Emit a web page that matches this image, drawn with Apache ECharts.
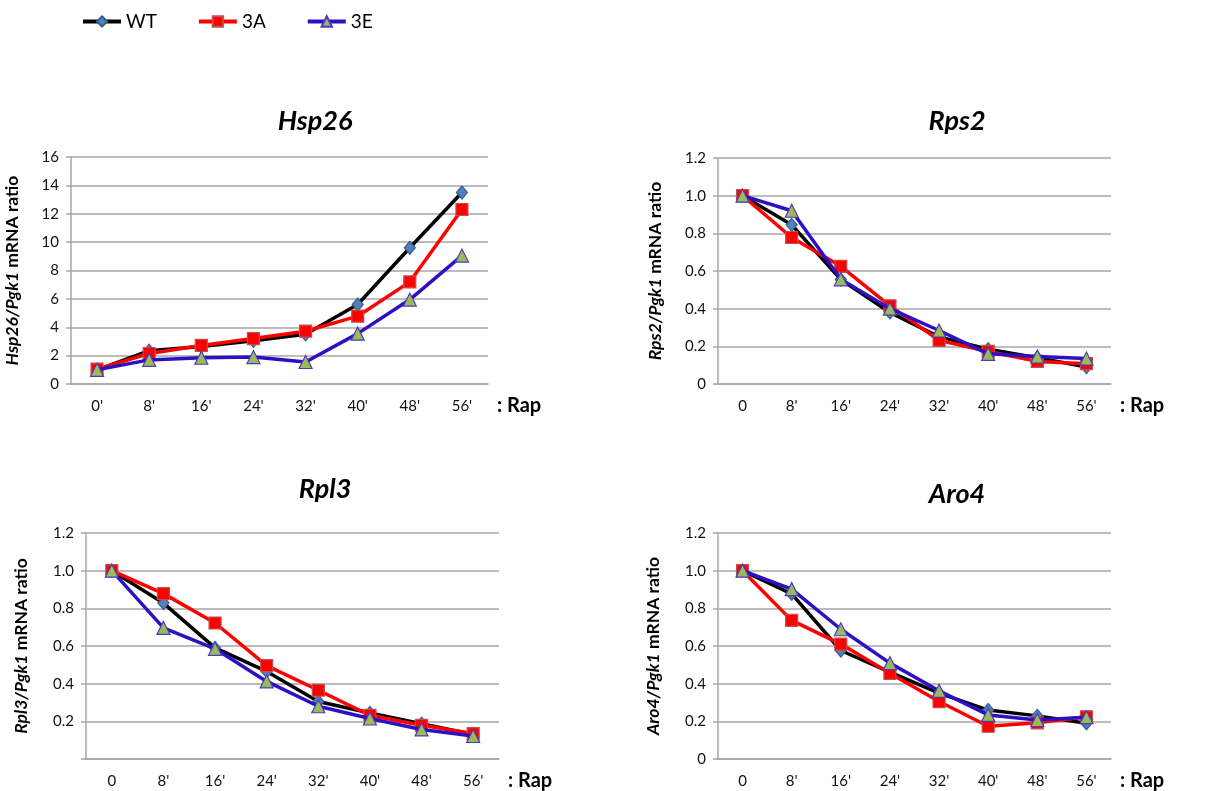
<!DOCTYPE html>
<html>
<head>
<meta charset="utf-8">
<script src="https://cdn.jsdelivr.net/npm/echarts@6/dist/echarts.min.js"></script>
<style>html,body{margin:0;padding:0;background:#fff}#c{width:1228px;height:791px}</style>
</head>
<body>
<div id="c"></div>
<script>
// ---- data ----
const catsHsp = ["0'", "8'", "16'", "24'", "32'", "40'", "48'", "56'"];
const catsOther = ["0", "8'", "16'", "24'", "32'", "40'", "48'", "56'"];

const hsp26_WT = [1.0, 2.35, 2.65, 3.05, 3.5, 5.6, 9.6, 13.5];
const hsp26_3A = [1.05, 2.15, 2.72, 3.2, 3.72, 4.78, 7.2, 12.3];
const hsp26_3E = [1.0, 1.7, 1.85, 1.9, 1.55, 3.55, 5.95, 9.05];

const rps2_WT = [1.0, 0.845, 0.555, 0.38, 0.25, 0.185, 0.14, 0.09];
const rps2_3A = [1.0, 0.778, 0.625, 0.415, 0.232, 0.173, 0.12, 0.108];
const rps2_3E = [1.0, 0.92, 0.556, 0.4, 0.284, 0.16, 0.146, 0.135];

const rpl3_WT = [1.0, 0.828, 0.59, 0.465, 0.305, 0.244, 0.188, 0.13];
const rpl3_3A = [1.0, 0.878, 0.722, 0.496, 0.365, 0.232, 0.179, 0.135];
const rpl3_3E = [1.0, 0.696, 0.585, 0.412, 0.28, 0.215, 0.157, 0.122];

const aro4_WT = [1.0, 0.877, 0.576, 0.461, 0.35, 0.26, 0.229, 0.19];
const aro4_3A = [1.0, 0.736, 0.61, 0.455, 0.305, 0.174, 0.192, 0.224];
const aro4_3E = [1.0, 0.902, 0.689, 0.509, 0.362, 0.234, 0.207, 0.222];

const hspTicks = {min: 0, max: 16, interval: 2};
const ratioTicks = {min: 0, max: 1.2, interval: 0.2};

// ---- styles ----
const FONT = 'Lato, "Open Sans", sans-serif';
const gridColor = '#a6a6a6';
const styleWT = {line: '#000000', fill: '#4f81bd', border: '#385d8a', symbol: 'diamond', size: [11, 13]};
const style3A = {line: '#ff0000', fill: '#ff0000', border: '#c0504d', symbol: 'rect', size: 12};
const style3E = {line: '#2e10c4', fill: '#9bbb59', border: '#4a3cc0', symbol: 'triangle', size: 13};

const panels = [
  {gene: 'Hsp26', cats: catsHsp, data: [hsp26_WT, hsp26_3A, hsp26_3E], ticks: hspTicks,
   grid: {left: 71, top: 157, width: 417, height: 227}, titleX: 310, titleY: 103, nameGap: 50, dec: 0, hideZero: false},
  {gene: 'Rps2', cats: catsOther, data: [rps2_WT, rps2_3A, rps2_3E], ticks: ratioTicks,
   grid: {left: 718, top: 158, width: 393, height: 226}, titleX: 952, titleY: 103, nameGap: 54, dec: 1, hideZero: false},
  {gene: 'Rpl3', cats: catsOther, data: [rpl3_WT, rpl3_3A, rpl3_3E], ticks: ratioTicks,
   grid: {left: 86, top: 533, width: 413, height: 226}, titleX: 320, titleY: 471, nameGap: 56, dec: 1, hideZero: true},
  {gene: 'Aro4', cats: catsOther, data: [aro4_WT, aro4_3A, aro4_3E], ticks: ratioTicks,
   grid: {left: 718, top: 533, width: 393, height: 226}, titleX: 952, titleY: 476, nameGap: 56, dec: 1, hideZero: false}
];
const seriesNames = ['WT', '3A', '3E'];
const seriesStyles = [styleWT, style3A, style3E];

const option = {
  animation: false,
  backgroundColor: '#ffffff',
  textStyle: {fontFamily: FONT},
  legend: {
    left: 76, top: 7, itemWidth: 38, itemHeight: 13, itemGap: 40,
    lineStyle: {width: 4},
    textStyle: {fontSize: 19, color: '#000', fontFamily: FONT},
    data: seriesNames
  },
  title: [], grid: [], xAxis: [], yAxis: [], series: []
};

panels.forEach((p, i) => {
  option.title.push({
    text: p.gene, left: p.titleX, top: p.titleY, textAlign: 'center',
    textStyle: {fontSize: 27, fontWeight: 'bold', fontStyle: 'italic', color: '#000', fontFamily: FONT}
  });
  option.grid.push(Object.assign({containLabel: false}, p.grid));
  option.xAxis.push({
    type: 'category', gridIndex: i, data: p.cats, boundaryGap: true,
    axisLine: {show: true, lineStyle: {color: gridColor, width: 1.5}},
    axisTick: {show: false},
    axisLabel: {fontSize: 15, color: '#111', margin: 15, fontFamily: FONT},
    name: ': Rap', nameLocation: 'end', nameGap: 9,
    nameTextStyle: {fontSize: 20, fontWeight: 'bold', color: '#000', verticalAlign: 'top', padding: [12, 0, 0, 0], fontFamily: FONT}
  });
  option.yAxis.push({
    type: 'value', gridIndex: i, min: p.ticks.min, max: p.ticks.max, interval: p.ticks.interval,
    axisLine: {show: true, lineStyle: {color: gridColor, width: 1.5}},
    axisTick: {show: true, length: 5, lineStyle: {color: gridColor, width: 1.5}},
    splitLine: {show: true, lineStyle: {color: gridColor, width: 1.5}},
    axisLabel: {
      fontSize: 15, color: '#111', margin: 12, fontFamily: FONT,
      formatter: (v) => {
        if (Math.abs(v) < 1e-9) return p.hideZero ? '' : '0';
        return v.toFixed(p.dec);
      }
    },
    name: '{i|' + p.gene + '/Pgk1}{n| mRNA ratio}',
    nameLocation: 'middle', nameGap: p.nameGap, nameRotate: 90,
    nameTextStyle: {
      rich: {
        i: {fontSize: 17.5, fontWeight: 'bold', fontStyle: 'italic', color: '#000', fontFamily: FONT},
        n: {fontSize: 17.5, fontWeight: 'bold', color: '#000', fontFamily: FONT}
      }
    }
  });
  p.data.forEach((d, k) => {
    const s = seriesStyles[k];
    option.series.push({
      name: seriesNames[k], type: 'line', xAxisIndex: i, yAxisIndex: i, data: d,
      symbol: s.symbol, symbolSize: s.size, showSymbol: true,
      lineStyle: {color: s.line, width: 3.5},
      itemStyle: {color: s.fill, borderColor: s.border, borderWidth: 1.2},
      z: 2 + k
    });
  });
});

const chart = echarts.init(document.getElementById('c'), null, {renderer: 'canvas'});
chart.setOption(option);
</script>
</body>
</html>
